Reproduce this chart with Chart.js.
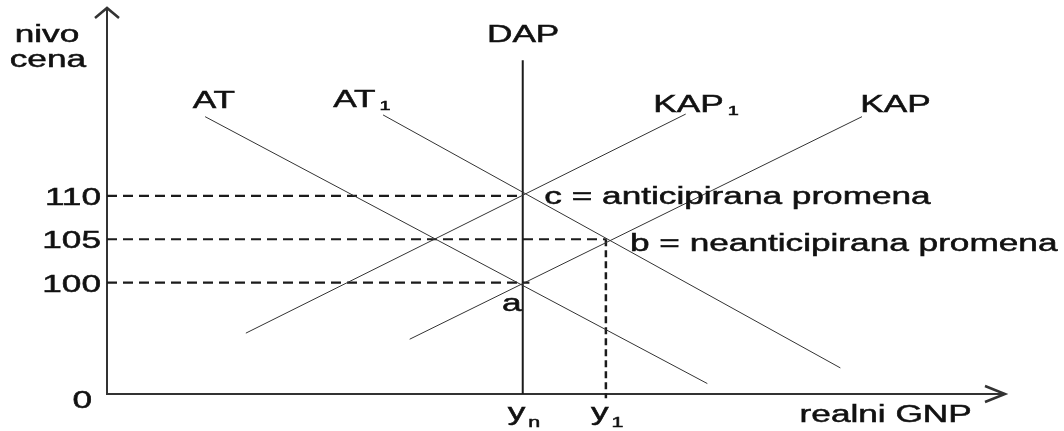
<!DOCTYPE html>
<html lang="sr">
<head>
  <meta charset="UTF-8" />
  <title>AT / KAP / DAP</title>
  <script src="https://cdn.jsdelivr.net/npm/chart.js"></script>
  <style>
    html, body { margin: 0; padding: 0; background: #fff; }
    .wrap { width: 1064px; height: 431px; }
  </style>
</head>
<body>
  <div class="wrap"><canvas id="graf"></canvas></div>
  <script>
    // nivo cena (y) i realni GNP (x), shematske jedinice
    const priceLevels = [100, 105, 110];
    const levelReach = [50.8, 60, 50];     // do kog GNP ide isprekidana linija
    const gnpMarks = [50, 60];             // yn, y1
    const gnpNames = [['y', 'n'], ['y', '1']];

    const atLine   = [[11.8, 119.1], [72.2, 88.4]];
    const at1Line  = [[33.2, 119.3], [88.2, 90.2]];
    const kapLine  = [[36.4, 93.5], [90.8, 119.1]];
    const kap1Line = [[16.7, 94.2], [69.6, 119.4]];
    const dapLine  = [[50, 87.2], [50, 125.6]];

    const lineNames = [
      { text: 'AT',   sub: '',  at: [10.3, 120.1] },
      { text: 'AT',   sub: '1', at: [27.2, 120.2] },
      { text: 'KAP',  sub: '1', at: [65.7, 119.6] },
      { text: 'KAP',  sub: '',  at: [90.6, 119.6] },
      { text: 'DAP',  sub: '',  at: [45.7, 127.7] },
      { text: 'c = anticipirana promena',   sub: '', at: [52.6, 109.1] },
      { text: 'b = neanticipirana promena', sub: '', at: [62.9, 103.7] },
      { text: 'a',    sub: '',  at: [47.5, 96.8] },
      { text: 'nivo', sub: '',  at: [-11.1, 127.7] },
      { text: 'cena', sub: '',  at: [-11.7, 124.8] },
      { text: 'realni GNP', sub: '', at: [83.3, 84.0] }
    ];

    const X_MIN = 0, X_MAX = 108, Y_MIN = 87.2, Y_MAX = 131.6;
    const INK = '#1b1b1b';
    const SX = 1.53;   // slika je razvucena po sirini

    const pts = arr => arr.map(p => ({ x: p[0], y: p[1] }));

    function thin(arr) {
      return { data: pts(arr), showLine: true, pointRadius: 0, borderColor: '#333',
               borderWidth: 1, fill: false, clip: false };
    }

    const datasets = [thin(atLine), thin(at1Line), thin(kapLine), thin(kap1Line)];
    datasets.push({ data: pts(dapLine), showLine: true, pointRadius: 0, borderColor: INK,
                    borderWidth: 2, clip: false });
    priceLevels.forEach((p, i) => {
      datasets.push({ data: [{ x: X_MIN, y: p }, { x: levelReach[i], y: p }], showLine: true,
                      pointRadius: 0, borderColor: INK, borderWidth: 2.2, borderDash: [10, 6], clip: false });
    });
    datasets.push({ data: [{ x: gnpMarks[1], y: 105 }, { x: gnpMarks[1], y: 86.7 }], showLine: true,
                    pointRadius: 0, borderColor: INK, borderWidth: 2.5, borderDash: [7, 4], clip: false });

    function txt(ctx, s, x, y, size, align) {
      ctx.save();
      ctx.translate(x, y);
      ctx.scale(SX, 1);
      ctx.font = size + 'px "Liberation Sans", Arial, sans-serif';
      ctx.textAlign = align || 'left';
      ctx.textBaseline = 'alphabetic';
      ctx.fillStyle = '#111';
      ctx.strokeStyle = '#111';
      ctx.lineWidth = 0.5;
      ctx.fillText(s, 0, 0);
      ctx.strokeText(s, 0, 0);
      const w = ctx.measureText(s).width * SX;
      ctx.restore();
      return w;
    }

    const axesPlugin = {
      id: 'axes',
      beforeDatasetsDraw(chart) {
        const { ctx, chartArea: a } = chart;
        ctx.save();
        ctx.strokeStyle = '#333';
        ctx.lineWidth = 2;
        ctx.beginPath();
        ctx.moveTo(a.left, a.top);
        ctx.lineTo(a.left, a.bottom);
        ctx.lineTo(a.right, a.bottom);
        ctx.stroke();
        ctx.lineWidth = 2.5;
        ctx.beginPath();
        ctx.moveTo(a.left - 12, a.top + 10);
        ctx.lineTo(a.left, a.top);
        ctx.lineTo(a.left + 12, a.top + 10);
        ctx.moveTo(a.right - 20, a.bottom - 8);
        ctx.lineTo(a.right, a.bottom);
        ctx.lineTo(a.right - 20, a.bottom + 8);
        ctx.stroke();
        ctx.restore();
      },
      afterDatasetsDraw(chart) {
        const { ctx, chartArea: a, scales: { x, y } } = chart;
        priceLevels.forEach(p => txt(ctx, String(p), a.left - 6, y.getPixelForValue(p) + 9, 23, 'right'));
        txt(ctx, '0', a.left - 15, a.bottom + 14, 23, 'right');
        gnpMarks.forEach((g, i) => {
          const px = x.getPixelForValue(g) - 15;
          const w = txt(ctx, gnpNames[i][0], px, a.bottom + 26, 23);
          txt(ctx, gnpNames[i][1], px + w + 3, a.bottom + 33, 14);
        });
        lineNames.forEach(l => {
          const px = x.getPixelForValue(l.at[0]);
          const py = y.getPixelForValue(l.at[1]);
          const w = txt(ctx, l.text, px, py, 23);
          if (l.sub) txt(ctx, l.sub, px + w + 4, py + 3, 13);
        });
      }
    };

    new Chart(document.getElementById('graf'), {
      type: 'scatter',
      data: { datasets },
      options: {
        responsive: true,
        maintainAspectRatio: false,
        animation: false,
        layout: { padding: { left: 107, right: 59, top: 8, bottom: 37 } },
        plugins: { legend: { display: false }, tooltip: { enabled: false } },
        scales: {
          x: { type: 'linear', min: X_MIN, max: X_MAX, display: false },
          y: { type: 'linear', min: Y_MIN, max: Y_MAX, display: false }
        }
      },
      plugins: [axesPlugin]
    });
  </script>
</body>
</html>
